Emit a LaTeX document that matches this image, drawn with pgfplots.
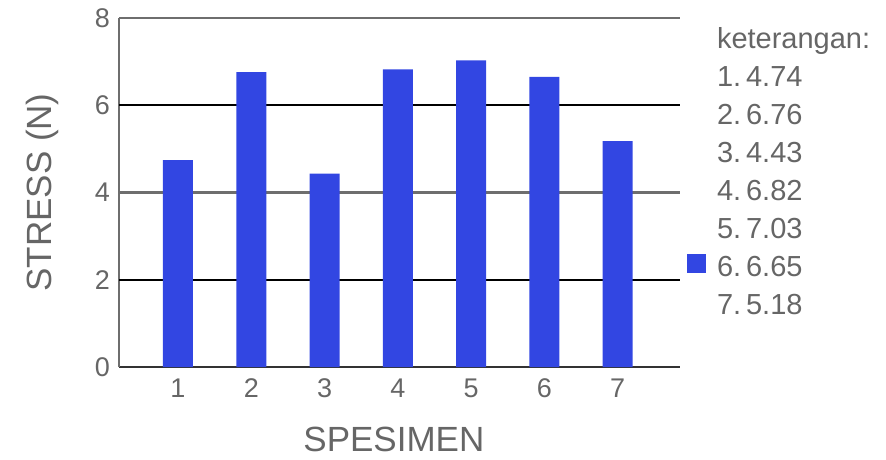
\documentclass[border=0pt]{standalone}
\usepackage{fontspec}
\setmainfont{Liberation Sans}
\usepackage{pgfplots}
\pgfplotsset{compat=1.18}
\definecolor{barblue}{RGB}{50,70,226}
\definecolor{txtgray}{RGB}{102,102,102}
\definecolor{gridgray}{RGB}{110,110,110}
\newcommand{\lgsp}{\hspace{0.17em}}
\begin{document}
\begin{tikzpicture}
\begin{axis}[
  at={(119pt,92pt)}, anchor=south west,
  scale only axis, width=561pt, height=349pt,
  xmin=0.195, xmax=7.85, ymin=0, ymax=8,
  axis x line*=bottom, axis y line*=left,
  x axis line style={-, draw=black!80, line width=2.5pt},
  y axis line style={-, draw=gridgray, line width=2.5pt},
  xtick={1,2,3,4,5,6,7},
  ytick={0,4,8},
  extra y ticks={2,6},
  extra y tick style={grid style={black, line width=1.6pt}},
  ymajorgrids,
  grid style={gridgray, line width=2.4pt},
  major tick length=0pt,
  tick style={draw=none},
  /pgf/number format/assume math mode=true,
  ticklabel style={font=\fontsize{27}{30}\selectfont, text=txtgray},
  yticklabel style={inner sep=0pt, anchor=east, xshift=-9pt},
  xticklabel style={inner sep=0pt, anchor=base, yshift=-30pt},
  xlabel={SPESIMEN},
  ylabel={STRESS (N)},
  label style={font=\fontsize{35}{38}\selectfont, text=txtgray},
  xlabel style={at={(axis description cs:0.49,-0.209)}, anchor=center},
  ylabel style={at={(axis description cs:-0.137,0.5)}, anchor=center, rotate=0},
  legend cell align=left,
  legend style={at={(1,1)}, anchor=north west, xshift=7pt, yshift=-3pt,
    draw=none, fill=none, inner sep=0pt, outer sep=0pt,
    font=\fontsize{29}{32}\selectfont, text=txtgray,
    nodes={inner sep=0pt, text height=27pt, text depth=11pt},
    row sep=0pt,
    /tikz/every odd column/.append style={column sep=11pt}},
]
\addlegendimage{empty legend}\addlegendentry{keterangan:}
\addlegendimage{empty legend}\addlegendentry{1.\lgsp4.74}
\addlegendimage{empty legend}\addlegendentry{2.\lgsp6.76}
\addlegendimage{empty legend}\addlegendentry{3.\lgsp4.43}
\addlegendimage{empty legend}\addlegendentry{4.\lgsp6.82}
\addlegendimage{empty legend}\addlegendentry{5.\lgsp7.03}
\addplot[ybar, fill=barblue, draw=none, bar width=30pt,
  legend image code/.code={\fill[barblue] (0pt,-5pt) rectangle (19pt,14pt);}]
  coordinates {(1,4.74) (2,6.76) (3,4.43) (4,6.82) (5,7.03) (6,6.65) (7,5.18)};
\addlegendentry{6.\lgsp6.65}
\addlegendimage{empty legend}\addlegendentry{7.\lgsp5.18}
\end{axis}
\pgfresetboundingbox
\path[use as bounding box] (0,0) rectangle (886pt,459pt);
\end{tikzpicture}
\end{document}
